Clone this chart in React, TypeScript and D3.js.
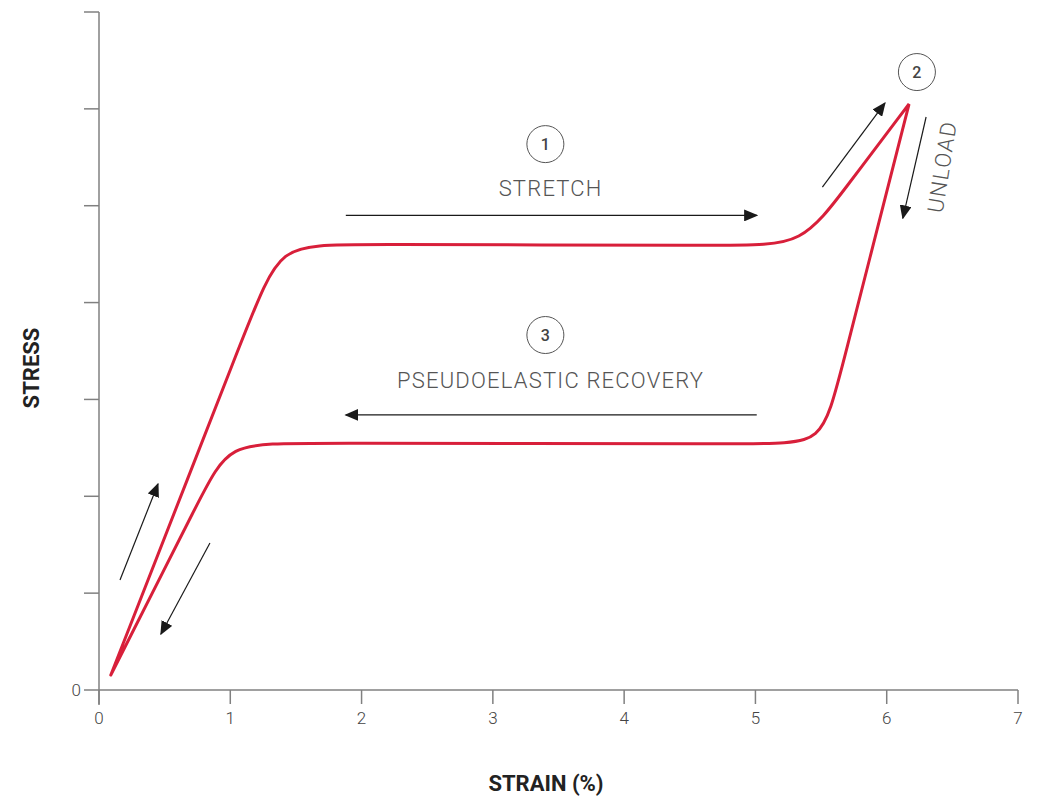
import React from "react";
import * as d3 from "d3";

// strain (%) on x, stress (arbitrary units) on y
const strainTicks = [0, 1, 2, 3, 4, 5, 6, 7];
const stressTicks = [0, 1, 2, 3, 4, 5, 6, 7];

// control points of the hysteresis loop (strain, stress)
const loadingPoints: [number, number][] = [
  [0.09, 0.155],
  [1.16, 3.86],
  [1.375, 4.6],
  [1.87, 4.6],
  [4.88, 4.59],
  [5.355, 4.59],
  [5.68, 5.172],
  [6.17, 6.05],
  [6.17, 6.05],
];

const unloadingPoints: [number, number][] = [
  [6.17, 6.05],
  [5.635, 3.2],
  [5.51, 2.54],
  [5.07, 2.54],
  [1.52, 2.55],
  [0.985, 2.55],
  [0.79, 2.03],
  [0.09, 0.155],
];

// direction arrows [fromStrain, fromStress, toStrain, toStress]
const arrows: [number, number, number, number][] = [
  [1.88, 4.9, 5.01, 4.9],
  [5.01, 2.84, 1.88, 2.84],
  [0.16, 1.136, 0.449, 2.127],
  [0.845, 1.518, 0.472, 0.578],
  [5.51, 5.193, 5.986, 6.06],
  [6.3, 5.916, 6.123, 4.873],
];

// step markers: label, strain, stress
const steps: [string, number, number][] = [
  ["1", 3.4, 5.636],
  ["2", 6.23, 6.38],
  ["3", 3.4, 3.665],
];

const captions: [string, number, number][] = [
  ["STRETCH", 3.44, 5.1],
  ["PSEUDOELASTIC RECOVERY", 3.44, 3.12],
];

const width = 1038;
const height = 797;
const margin = { top: 12, right: 20, bottom: 107, left: 99 };

const red = "#d81f3a";
const axisColor = "#808080";
const font = "Roboto, 'DejaVu Sans', sans-serif";

export default function App() {
  const x = d3
    .scaleLinear()
    .domain([0, 7])
    .range([margin.left, width - margin.right]);
  const y = d3
    .scaleLinear()
    .domain([0, 7])
    .range([height - margin.bottom, margin.top]);

  const line = d3
    .line<[number, number]>()
    .x((d) => x(d[0]))
    .y((d) => y(d[1]))
    .curve(d3.curveBasis);

  const loopPath = line(loadingPoints.concat(unloadingPoints)) || "";

  return (
    <svg width={width} height={height} style={{ display: "block", position: "absolute", left: 0, top: 0 }}>
      <defs>
        <marker
          id="head"
          viewBox="0 0 10 10"
          refX="9"
          refY="5"
          markerWidth="14"
          markerHeight="12"
          markerUnits="userSpaceOnUse"
          orient="auto"
          preserveAspectRatio="none"
        >
          <path d="M0,0 L10,5 L0,10 Z" fill="#1a1a1a" />
        </marker>
      </defs>

      {/* Y axis */}
      <line x1={x(0)} x2={x(0)} y1={y(7)} y2={y(0) + 15} stroke={axisColor} strokeWidth={1.5} />
      {stressTicks.map((t) => (
        <line key={"yt" + t} x1={x(0) - 15} x2={x(0)} y1={y(t)} y2={y(t)} stroke={axisColor} strokeWidth={1.5} />
      ))}
      <text x={x(0) - 18} y={y(0)} dy="0.35em" textAnchor="end" fontFamily={font} fontWeight={300} fontSize={17} fill="#444">
        0
      </text>

      {/* X axis */}
      <line x1={x(0)} x2={x(7)} y1={y(0)} y2={y(0)} stroke={axisColor} strokeWidth={1.5} />
      {strainTicks.map((t) => (
        <g key={"xt" + t}>
          <line x1={x(t)} x2={x(t)} y1={y(0)} y2={y(0) + 14} stroke={axisColor} strokeWidth={1.5} />
          <text x={x(t)} y={y(0) + 34} textAnchor="middle" fontFamily={font} fontWeight={300} fontSize={17} fill="#444">
            {t}
          </text>
        </g>
      ))}

      {/* axis titles */}
      <text x={546} y={791} textAnchor="middle" fontFamily={font} fontWeight={700} fontSize={22} fill="#222">
        STRAIN (%)
      </text>
      <text
        transform="translate(39,368) rotate(-90)"
        textAnchor="middle"
        fontFamily={font}
        fontWeight={700}
        fontSize={22}
        fill="#222"
      >
        STRESS
      </text>

      {/* loop */}
      <path d={loopPath} fill="none" stroke={red} strokeWidth={3} strokeLinejoin="miter" strokeLinecap="round" />

      {/* arrows */}
      {arrows.map((a, i) => (
        <line
          key={"a" + i}
          x1={x(a[0])}
          y1={y(a[1])}
          x2={x(a[2])}
          y2={y(a[3])}
          stroke="#1a1a1a"
          strokeWidth={1.2}
          markerEnd="url(#head)"
        />
      ))}

      {/* step markers */}
      {steps.map((s) => (
        <g key={"s" + s[0]}>
          <circle cx={x(s[1])} cy={y(s[2])} r={18.5} fill="none" stroke="#555" strokeWidth={1} />
          <text x={x(s[1])} y={y(s[2])} dy="0.36em" textAnchor="middle" fontFamily={font} fontWeight={500} fontSize={16} fill="#444">
            {s[0]}
          </text>
        </g>
      ))}

      {captions.map((c) => (
        <text
          key={c[0]}
          x={x(c[1])}
          y={y(c[2])}
          textAnchor="middle"
          fontFamily={font}
          fontWeight={300}
          fontSize={22}
          letterSpacing={1.2}
          fill="#555"
        >
          {c[0]}
        </text>
      ))}

      <text
        transform={`translate(${x(6.48)},${y(5.39)}) rotate(-81)`}
        textAnchor="middle"
        fontFamily={font}
        fontWeight={300}
        fontSize={22}
        letterSpacing={1.5}
        fill="#555"
      >
        UNLOAD
      </text>
    </svg>
  );
}
